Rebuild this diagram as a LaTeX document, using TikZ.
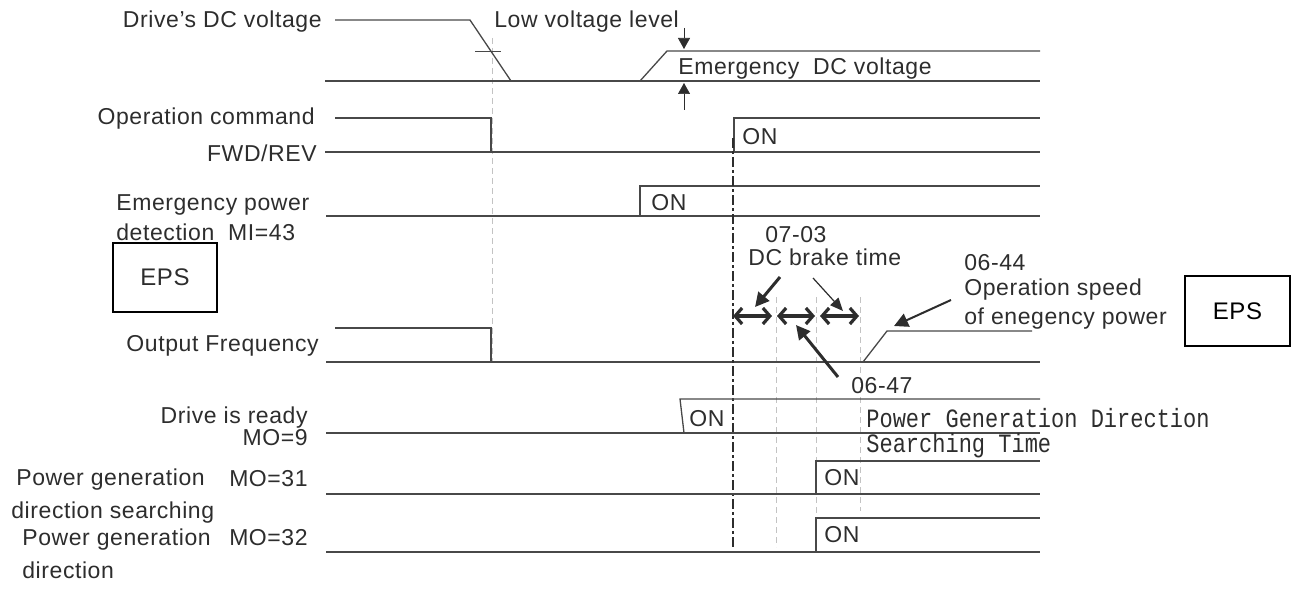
\documentclass[tikz,border=0pt]{standalone}
\usepackage{fontspec}
\setmainfont[LetterSpace=2.5]{Liberation Sans}
\newfontfamily\condmono{Liberation Mono}
\usepackage{graphicx}
\usetikzlibrary{arrows.meta}
\definecolor{wave}{RGB}{72,72,72}
\definecolor{ink}{RGB}{45,45,45}
\definecolor{guide}{RGB}{195,195,195}
\tikzset{every picture/.style={line width=0.75pt}}
\tikzset{
  wav/.style={draw=wave, line width=1.3pt},
  guideline/.style={draw=guide, line width=0.8pt, dash pattern=on 6pt off 4pt},
  marker/.style={draw=ink, line width=2.8pt, dash pattern=on 10pt off 3pt on 3pt off 3pt},
  lbl/.style={text=ink, font=\fontsize{23}{26}\selectfont, inner sep=0pt},
  epsbox/.style={draw=black, line width=1.8pt, inner sep=0pt, font=\fontsize{24}{26}\selectfont},
  span/.style={draw=ink, line width=3.2pt, {Straight Barb[length=7pt,width=16pt]}-{Straight Barb[length=7pt,width=16pt]}},
  pointer/.style={draw=ink, line width=3pt, -{Triangle[length=14pt,width=14pt]}},
  thinpointer/.style={draw=ink, line width=1.2pt, -{Triangle[length=13pt,width=11pt]}},
  level/.style={draw=ink, line width=0.7pt, -{Triangle[length=11pt,width=12pt]}},
}

\begin{document}
\begin{tikzpicture}[x=1pt, y=-1pt]
    \useasboundingbox (0,0) rectangle (1296,591);

    % guide lines
    \draw[guideline] (492,38) -- (492,361);
    \draw[guideline] (776,297) -- (776,547);
    \draw[guideline] (816,297) -- (816,551);
    \draw[guideline] (860,297) -- (860,511);

    % Drive's DC voltage
    \node[lbl, anchor=base east] (dclbl) at (322,28) {Drive's DC voltage};
    \draw[wav] (335,20) -- (470,20) -- (511,81);
    \draw[wav] (325,81) -- (1040,81);
    \draw[wav] (640,81) -- (667,51) -- (1040,51);
    \draw[wav, line width=0.8pt] (475,51) -- (501,51);
    \node[lbl, anchor=base west] (lowlbl) at (494,28) {Low voltage level};
    \node[lbl, anchor=base west] (emdclbl) at (678,75) {Emergency\ \ DC voltage};
    \coordinate (lvtop) at (684,28);
    \coordinate (lvhi) at (684,49);
    \coordinate (lvbot) at (684,110);
    \coordinate (lvlo) at (684,83);
    \draw[level] (lvtop) -- (lvhi);
    \draw[level] (lvbot) -- (lvlo);

    % Operation command FWD/REV
    \node[lbl, anchor=base east] (oplbl) at (315,125) {Operation command};
    \node[lbl, anchor=base east] (fwdlbl) at (317,161) {FWD/REV};
    \draw[wav] (335,118) -- (491,118) -- (491,152);
    \draw[wav] (325,152) -- (1040,152);
    \draw[wav] (734,152) -- (734,118) -- (1040,118);
    \node[lbl, anchor=base west] (fwdon) at (742,145) {ON};

    % Emergency power detection
    \node[lbl, anchor=base west] (emlbl) at (116,210) {Emergency power};
    \node[lbl, anchor=base west] (milbl) at (116,240) {detection\ \ MI=43};
    \draw[wav] (326,216) -- (1040,216);
    \draw[wav] (640,216) -- (640,186) -- (1040,186);
    \node[lbl, anchor=base west] (emon) at (651,210) {ON};
    \node[epsbox, text=ink, minimum width=104pt, minimum height=69pt] (epsleft) at (165,277.5) {EPS};

    % Output frequency
    \node[lbl, anchor=base east] (outlbl) at (319,351) {Output Frequency};
    \draw[wav] (335,328) -- (491,328) -- (491,362);
    \draw[wav] (326,362) -- (1040,362);
    \draw[wav] (863,362) -- (887,331) -- (1032,331);

    % brake / search intervals
    \draw[marker] (733,138) -- (733,547);
    \coordinate (b0) at (733,316);
    \coordinate (b1) at (772,316);
    \coordinate (b2) at (777,316);
    \coordinate (b3) at (815,316);
    \coordinate (b4) at (820,316);
    \coordinate (b5) at (859,316);
    \draw[span] (b0) -- (b1);
    \draw[span] (b2) -- (b3);
    \draw[span] (b4) -- (b5);
    \node[lbl, anchor=base west] (brklbl) at (765,242) {07-03};
    \node[lbl, anchor=base west] (brktxt) at (748,265) {DC brake time};
    \coordinate (p1) at (780,277);
    \coordinate (p1t) at (755,307);
    \coordinate (p2) at (813,278);
    \coordinate (p2t) at (843,311);
    \draw[pointer] (p1) -- (p1t);
    \draw[thinpointer] (p2) -- (p2t);
    \node[lbl, anchor=base west] (srchlbl) at (851,393) {06-47};
    \coordinate (p3) at (838,377);
    \coordinate (p3t) at (796,325);
    \draw[pointer] (p3) -- (p3t);
    \node[lbl, anchor=base west] (spdnum) at (964,270) {06-44};
    \node[lbl, anchor=base west] (spdlbl) at (964,295) {Operation speed};
    \node[lbl, anchor=base west] (spdlbl2) at (964,324) {of enegency power};
    \coordinate (p4) at (951,300);
    \coordinate (p4t) at (894,326);
    \draw[pointer, line width=2pt] (p4) -- (p4t);
    \node[epsbox, text=black, minimum width=105pt, minimum height=70pt] (epsright) at (1237.5,311) {EPS};

    % Drive is ready
    \node[lbl, anchor=base east] (rdylbl) at (308,423) {Drive is ready};
    \node[lbl, anchor=base east] (rdymo) at (308,445) {MO=9};
    \draw[wav] (326,433) -- (1040,433);
    \draw[wav] (684,433) -- (680,399) -- (1040,399);
    \node[lbl, anchor=base west] (rdyon) at (689,426) {ON};
    \node[text=ink, inner sep=0pt, anchor=base west] (pgtime) at (866,427)
        {\fontsize{22}{26}\condmono\scalebox{1}[1.2]{Power Generation Direction}};
    \node[text=ink, inner sep=0pt, anchor=base west] (pgtime2) at (866,452)
        {\fontsize{22}{26}\condmono\scalebox{1}[1.2]{Searching Time}};

    % MO=31
    \node[lbl, anchor=base west] (pglbl) at (16,485) {Power generation};
    \node[lbl, anchor=base east] (pgmo) at (308,486) {MO=31};
    \node[lbl, anchor=base west] (pglbl2) at (11,518) {direction searching};
    \draw[wav] (326,494) -- (1040,494);
    \draw[wav] (816,494) -- (816,461) -- (1040,461);
    \node[lbl, anchor=base west] (pgon) at (824,485) {ON};

    % MO=32
    \node[lbl, anchor=base west] (dirlbl) at (22,545) {Power generation};
    \node[lbl, anchor=base east] (dirmo) at (308,545) {MO=32};
    \node[lbl, anchor=base west] (dirlbl2) at (22,578) {direction};
    \draw[wav] (326,552) -- (1040,552);
    \draw[wav] (816,552) -- (816,518) -- (1040,518);
    \node[lbl, anchor=base west] (diron) at (824,542) {ON};
\end{tikzpicture}
\end{document}
